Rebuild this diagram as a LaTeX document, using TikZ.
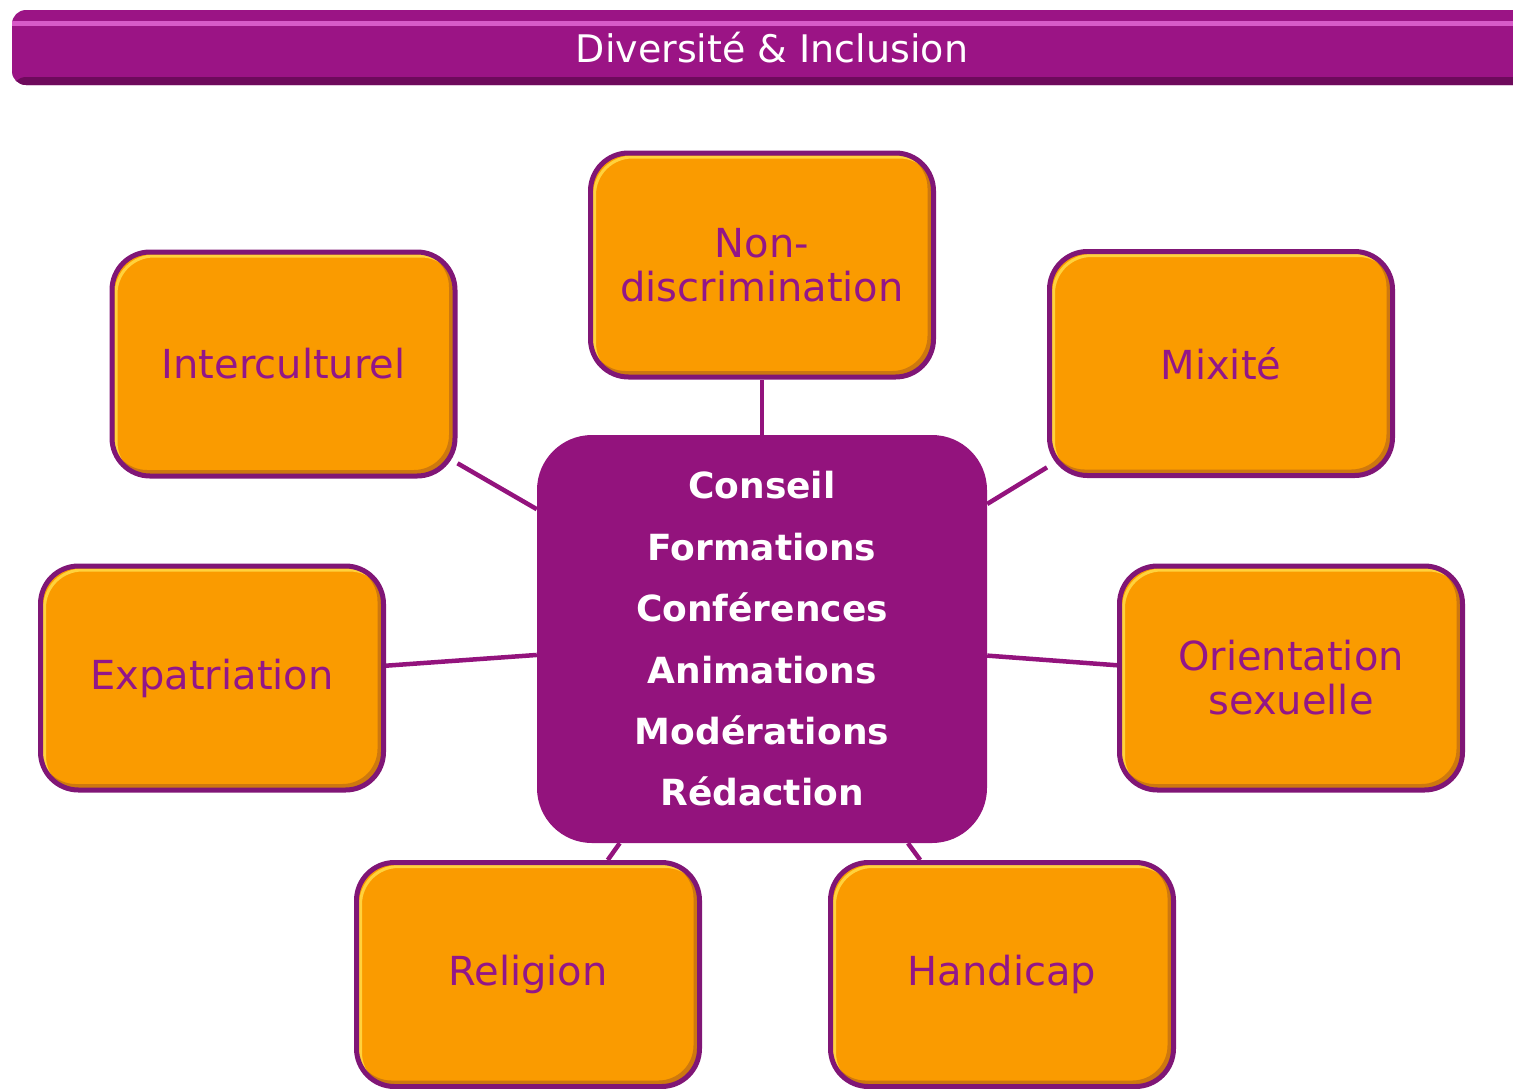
\documentclass[tikz,border=0pt]{standalone}
\usepackage{fontspec}
\setmainfont{DejaVu Sans}
\usetikzlibrary{shapes,positioning,calc}
\definecolor{dipurple}{RGB}{147,19,125}
\definecolor{diframe}{RGB}{128,22,118}
\definecolor{dibar}{RGB}{155,20,133}
\definecolor{barshine}{RGB}{215,90,200}
\definecolor{bardark}{RGB}{110,10,92}
\definecolor{diorange}{RGB}{250,155,0}
\definecolor{dirim}{RGB}{205,120,15}
\definecolor{dishine}{RGB}{255,210,60}
\definecolor{ditext}{RGB}{146,22,137}

\begin{document}
\begin{tikzpicture}[x=1pt,y=-1pt,
    theme/.style={draw=diframe, line width=5pt, fill=diorange, rounded corners=38pt,
        minimum width=343pt, minimum height=224pt, text=ditext, align=center,
        font=\fontsize{40}{44}\selectfont,
        path picture={
            \draw[line width=6pt, dirim, rounded corners=38pt]
                ([xshift=-3pt,yshift=3pt]path picture bounding box.south west) rectangle
                ([xshift=-3pt,yshift=3pt]path picture bounding box.north east);
            \draw[line width=3pt, dishine, rounded corners=38pt]
                ([xshift=4pt,yshift=-4pt]path picture bounding box.south west) rectangle
                ([xshift=4pt,yshift=-4pt]path picture bounding box.north east);
        }},
    hub/.style={fill=dipurple, rounded corners=55pt, minimum width=450pt, minimum height=408pt,
        text=white, align=center, font=\bfseries\fontsize{36}{61.4}\selectfont},
    bar/.style={fill=dibar, rounded corners=14pt, minimum width=1520pt, minimum height=75pt,
        text=white, font=\fontsize{38}{44}\selectfont,
        path picture={
            \fill[bardark] ([yshift=8pt]path picture bounding box.south west) rectangle
                (path picture bounding box.south east);
            \draw[line width=5pt, barshine] ([yshift=-13pt]path picture bounding box.north west) --
                ([yshift=-13pt]path picture bounding box.north east);
        }},
    link/.style={draw=dipurple, line width=4.5pt}]
    \useasboundingbox (0,0) rectangle (1513,1088);

    % titre
    \node[bar] (title) at (772,47.5) {Diversité \& Inclusion};

    % centre
    \node[hub] (hub) at (762,639) {Conseil\\Formations\\Conférences\\Animations\\Modérations\\Rédaction};

    % domaines
    \node[theme] (nondisc) at (762,265) {Non-\\discrimination};
    \node[theme] (intercult) at (283.5,364) {Interculturel};
    \node[theme] (mixite) at (1221,363.5) {Mixité};
    \node[theme] (expat) at (212,678) {Expatriation};
    \node[theme] (orient) at (1291,678) {Orientation\\sexuelle};
    \node[theme] (religion) at (528,974.5) {Religion};
    \node[theme] (handicap) at (1002,974.5) {Handicap};

    \foreach \n in {nondisc,intercult,mixite,expat,orient,religion,handicap}
        \draw[link] (hub) -- (\n);
\end{tikzpicture}
\end{document}
